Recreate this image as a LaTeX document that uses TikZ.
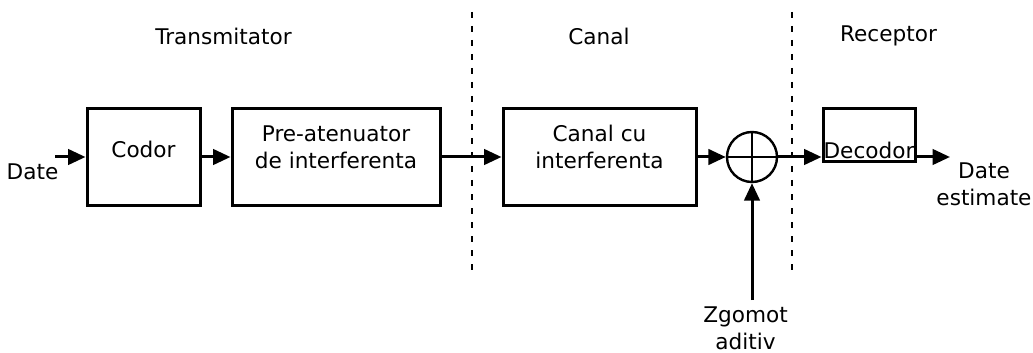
\documentclass[tikz,border=0pt]{standalone}
\usepackage{fontspec}
\setmainfont{DejaVu Sans}
\usetikzlibrary{arrows.meta}
\begin{document}
\begin{tikzpicture}[x=0.75pt,y=-0.75pt,
  font=\fontsize{16.2}{20}\selectfont,
  blk/.style={draw, line width=2.25pt, inner sep=0pt, minimum height=72pt},
  sig/.style={line width=2.25pt, -{Triangle[length=13pt,width=11.5pt]}},
  sep/.style={line width=1.9pt, dash pattern=on 4.5pt off 6pt},
  lbl/.style={inner sep=0pt, align=center}]
\useasboundingbox (0,0) rectangle (1033,353);

% section titles
\node[lbl] (tx)  at (223.5,36) {Transmitator};
\node[lbl] (ch)  at (599,36)   {Canal};
\node[lbl] (rx)  at (888.5,36) {Receptor};

% section separators
\coordinate (s1top) at (472,12);  \coordinate (s1bot) at (472,272);
\coordinate (s2top) at (792,12);  \coordinate (s2bot) at (792,272);
\draw[sep] (s1top) -- (s1bot);
\draw[sep] (s2top) -- (s2bot);

% processing blocks
\node[blk, minimum width=84.75pt]  (cod) at (143.5,157) {};
\node[blk, minimum width=156pt]    (pre) at (336,157)   {};
\node[blk, minimum width=144.75pt] (can) at (599.5,157) {};
\node[blk, minimum width=69pt, minimum height=39.75pt] (dec) at (869,135.5) {};

\node[lbl] (codT) at (143.5,149) {Codor};
\node[lbl] (preT) at (336,147)   {Pre-atenuator\\de interferenta};
\node[lbl] (canT) at (599.5,147) {Canal cu\\interferenta};
\node[lbl] (decT) at (869,150)   {Decodor};

% adder
\node[draw, circle, line width=1.8pt, minimum size=37.5pt, inner sep=0pt] (sum) at (752,157) {};
\draw[line width=1.8pt] (sum.north) -- (sum.south);
\draw[line width=1.8pt] (sum.west) -- (sum.east);

% input / output labels
\node[lbl] (din)  at (32.5,172) {Date};
\node[lbl] (dout) at (984,184)  {Date\\estimate};
\node[lbl] (zg)   at (745.5,328) {Zgomot\\aditiv};

\coordinate (inS)  at (55,157);
\coordinate (outE) at (950,157);
\coordinate (nS)   at (752,300);

% signal path
\draw[sig] (inS) -- (cod.west);
\draw[sig] (cod.east) -- (pre.west);
\draw[sig] (pre.east) -- (can.west);
\draw[sig] (can.east) -- (sum.west);
\draw[sig] (sum.east) -- (dec.west |- sum.east);
\draw[sig] (dec.east |- sum.east) -- (outE);
\draw[sig] (nS) -- (sum.south);
\end{tikzpicture}
\end{document}
